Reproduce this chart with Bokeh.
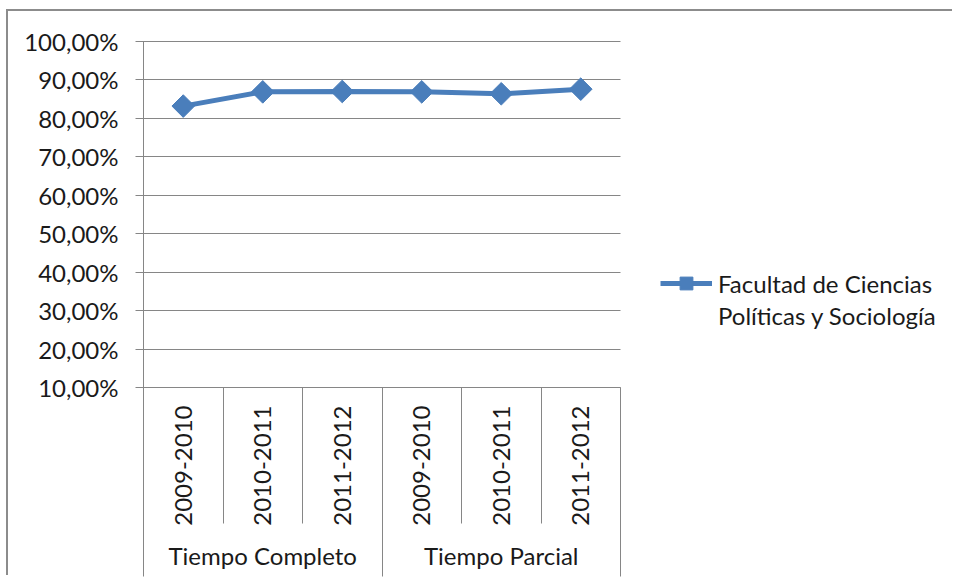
import math
from bokeh.plotting import figure
from bokeh.models import Range1d, FixedTicker, LinearAxis, Legend, LegendItem
from bokeh.embed import file_html
from bokeh.resources import INLINE

# ---- data ----
groups = ["Tiempo Completo", "Tiempo Parcial"]
periods = ["2009-2010", "2010-2011", "2011-2012"]
values = [83.2, 86.9, 87.0, 86.9, 86.4, 87.6]
y_ticks = [10, 20, 30, 40, 50, 60, 70, 80, 90, 100]
series_name_lines = ["Facultad de Ciencias", "Políticas y Sociología"]

# ---- styles / layout ----
FONT = "Lato"
FSIZE = "24px"
TEXT = "#1a1a1a"
GRID = "#868686"
BLUE = "#4a7ebb"
W, H = 946, 566
LEFT, TOP, BOTTOM = 135, 30, 190
PLOT_W = 477          # width of the category area in pixels
SEP_IN = 136          # length of separators between periods
SEP_GRP = 48          # extra length of separators between groups

n = len(groups) * len(periods)
xs = [i + 0.5 for i in range(n)]
inner_labels = [per for g in groups for per in periods]
group_centers = [len(periods) * (i + 0.5) for i in range(len(groups))]
group_bounds = [len(periods) * i for i in range(len(groups) + 1)]
x_end = n * (W - LEFT) / PLOT_W   # frame spans to the right edge (room for legend)

p = figure(width=W, height=H, x_range=Range1d(0, x_end), y_range=Range1d(y_ticks[0], y_ticks[-1]),
           output_backend="svg", toolbar_location=None,
           min_border_left=LEFT, min_border_right=0, min_border_top=TOP, min_border_bottom=BOTTOM,
           x_axis_location=None, y_axis_location="left")
p.outline_line_color = None
p.background_fill_color = "white"
p.border_fill_color = "white"
p.styles = {"margin-left": "8px", "margin-top": "11px", "overflow": "hidden",
            "box-shadow": "-2px -2px 0 0 #8c8c8c"}
p.xgrid.visible = False
p.ygrid.visible = False

# y axis (ticks drawn inward across the category area act as gridlines)
ya = p.yaxis[0]
ya.ticker = FixedTicker(ticks=y_ticks)
ya.major_label_overrides = {t: f"{t},00%" for t in y_ticks}
ya.major_tick_out = 8
ya.major_tick_in = PLOT_W
ya.minor_tick_out = 0
ya.minor_tick_in = 0
ya.major_tick_line_color = GRID
ya.axis_line_color = GRID
ya.major_label_standoff = 17
ya.major_label_text_font = FONT
ya.major_label_text_font_size = FSIZE
ya.major_label_text_color = TEXT

# inner category axis: labels + separators between periods
ax1 = LinearAxis(bounds=(0, n),
                 ticker=FixedTicker(ticks=xs, minor_ticks=list(range(n + 1))),
                 major_label_overrides={x: l for x, l in zip(xs, inner_labels)},
                 major_label_orientation=math.pi / 2,
                 major_tick_out=0, major_tick_in=0,
                 minor_tick_out=SEP_IN, minor_tick_in=0, minor_tick_line_color=GRID,
                 axis_line_color=GRID, major_label_standoff=18 - SEP_IN,
                 major_label_text_font=FONT, major_label_text_font_size=FSIZE,
                 major_label_text_color=TEXT)
p.add_layout(ax1, "below")

# group axis: labels + separators between groups
ax2 = LinearAxis(bounds=(0, n),
                 ticker=FixedTicker(ticks=group_centers, minor_ticks=group_bounds),
                 major_label_overrides={x: g for x, g in zip(group_centers, groups)},
                 major_label_orientation="horizontal",
                 major_tick_out=0, major_tick_in=0,
                 minor_tick_out=SEP_GRP, minor_tick_in=12, minor_tick_line_color=GRID,
                 axis_line_color=None, major_label_standoff=12 - SEP_GRP,
                 major_label_text_font=FONT, major_label_text_font_size=FSIZE,
                 major_label_text_color=TEXT)
p.add_layout(ax2, "below")

r_line = p.line(xs, values, line_color=BLUE, line_width=5, level="overlay")
r_pts = p.scatter(xs, values, marker="square", size=16, angle=math.pi / 4,
                  fill_color=BLUE, line_color=BLUE, level="overlay")
r_blank = p.line([], [], line_alpha=0)

legend = Legend(items=[LegendItem(label=series_name_lines[0], renderers=[r_line, r_pts]),
                       LegendItem(label=series_name_lines[1], renderers=[r_blank])],
                location=(517, 56), border_line_color=None, background_fill_alpha=0,
                padding=0, margin=0, spacing=0, glyph_width=52, glyph_height=32, label_standoff=6,
                label_text_font=FONT, label_text_font_size=FSIZE, label_text_color=TEXT)
p.add_layout(legend)

open("out.html", "w").write(file_html(p, INLINE))
